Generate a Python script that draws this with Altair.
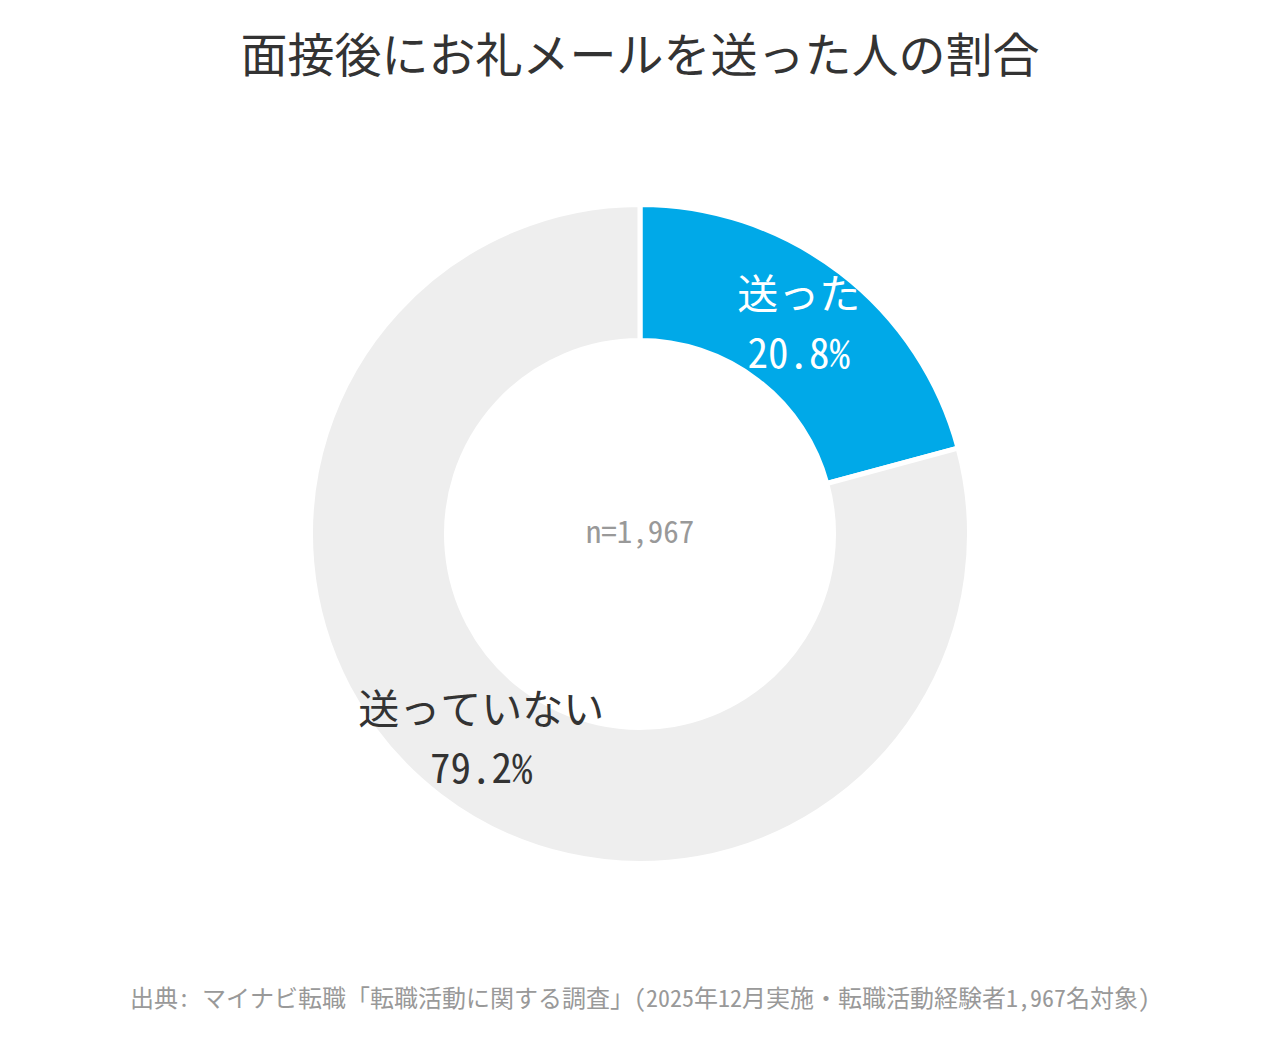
import pandas as pd
import altair as alt

FONT = "Noto Sans Mono CJK JP, Noto Sans CJK JP, sans-serif"

titre = "面接後にお礼メールを送った人の割合"
source = "出典: マイナビ転職「転職活動に関する調査」(2025年12月実施・転職活動経験者1,967名対象)"
echantillon = "n=1,967"

categories = ["送った", "送っていない"]
valeurs = [20.8, 79.2]
couleurs = ["#00A9E8", "#EEEEEE"]
couleurs_texte = ["#FFFFFF", "#333333"]

donnees = pd.DataFrame({
    "categorie": categories,
    "valeur": valeurs,
    "ordre": list(range(len(categories))),
    "couleur": couleurs,
    "couleur_texte": couleurs_texte,
})
donnees["etiquette"] = donnees.apply(
    lambda row: f"{row['categorie']}\n{row['valeur']:.1f}%", axis=1
)

cx, cy = 632, 526

base = alt.Chart(donnees).encode(
    theta=alt.Theta("valeur:Q", stack=True),
    order=alt.Order("ordre:O"),
    x=alt.value(cx),
    y=alt.value(cy),
)

anneau = base.mark_arc(
    innerRadius=193.5,
    outerRadius=329.5,
    stroke="white",
    strokeWidth=5
).encode(
    color=alt.Color("couleur:N", scale=None)
)

etiquettes = base.mark_text(
    radius=261,
    font=FONT,
    fontSize=41,
    lineBreak="\n",
    lineHeight=59,
    dy=-29.5,
    align="center",
    baseline="middle"
).encode(
    text="etiquette:N",
    color=alt.Color("couleur_texte:N", scale=None)
)

def texte(contenu, x, y, taille, couleur):
    return alt.Chart(pd.DataFrame({"t": [contenu]})).mark_text(
        font=FONT,
        fontSize=taille,
        color=couleur,
        align="center",
        baseline="middle"
    ).encode(
        text="t:N",
        x=alt.value(x),
        y=alt.value(y)
    )

chart = alt.layer(
    anneau,
    etiquettes,
    texte(echantillon, cx, cy, 31, "#999999"),
    texte(titre, cx, 50, 47, "#333333"),
    texte(source, cx, 992, 24, "#999999"),
).properties(
    width=1264,
    height=1024,
    autosize=alt.AutoSizeParams(type="none"),
    padding=0
).configure_view(
    stroke=None
)

chart.save("out.html", embed_options={"renderer": "svg", "actions": False})
